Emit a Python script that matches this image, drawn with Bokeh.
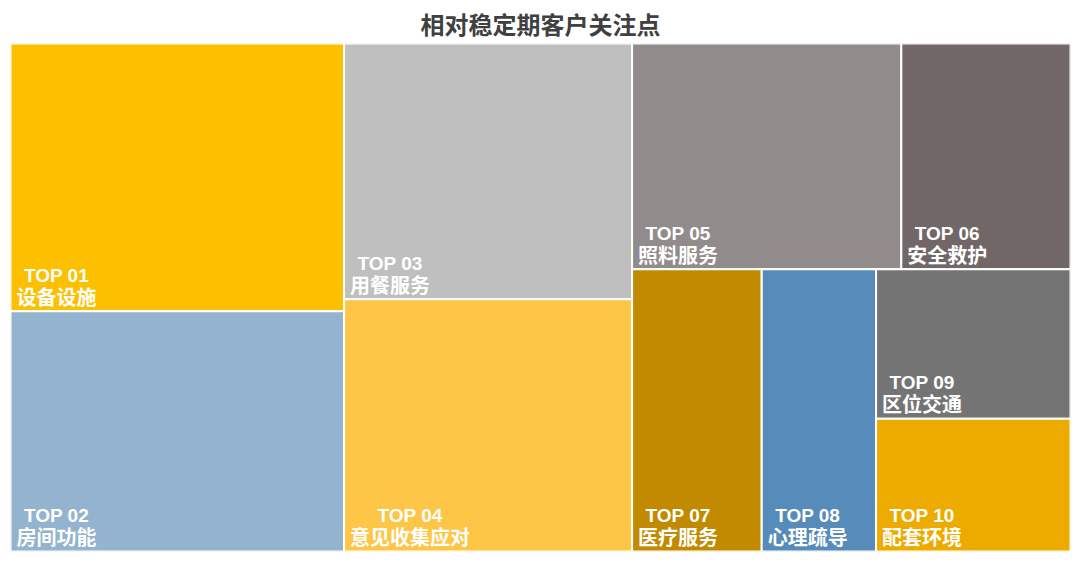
from bokeh.plotting import figure
from bokeh.models import Range1d, ColumnDataSource
from bokeh.core.properties import value
from bokeh.embed import file_html
from bokeh.resources import INLINE

# ---- data ----
codes = ["TOP 01", "TOP 02", "TOP 03", "TOP 04", "TOP 05",
         "TOP 06", "TOP 07", "TOP 08", "TOP 09", "TOP 10"]
names = ["设备设施", "房间功能", "用餐服务", "意见收集应对", "照料服务",
         "安全救护", "医疗服务", "心理疏导", "区位交通", "配套环境"]
values = [16.6, 14.9, 13.7, 13.5, 11.3, 7.1, 6.8, 6.0, 5.4, 4.8]
colors = ["#FCC000", "#93B3CF", "#BFBFBF", "#FDC647", "#928B8C",
          "#726767", "#C28A00", "#568BBA", "#747474", "#EDAB00"]

# treemap strip structure (orientation, item indices), as in the original layout
groups = [("col", [0, 1]), ("col", [2, 3]), ("row", [4, 5]),
          ("col", [6]), ("col", [7]), ("col", [8, 9])]

W, H = 1060, 508

# ---- layout computed from values ----
x0, y0, x1, y1 = 0.0, 0.0, float(W), float(H)
remaining = sum(values)
rects = [None] * len(values)
for orient, idx in groups:
    gsum = sum(values[i] for i in idx)
    frac = gsum / remaining
    if orient == "col":
        sw = (x1 - x0) * frac
        cy = y0
        for i in idx:
            h = (y1 - y0) * values[i] / gsum
            rects[i] = (x0, cy, x0 + sw, cy + h)
            cy += h
        x0 += sw
    else:
        sh = (y1 - y0) * frac
        cx = x0
        for i in idx:
            w = (x1 - x0) * values[i] / gsum
            rects[i] = (cx, y0, cx + w, y0 + sh)
            cx += w
        y0 += sh
    remaining -= gsum

left = [r[0] for r in rects]
right = [r[2] for r in rects]
top = [r[1] for r in rects]
bottom = [r[3] for r in rects]

src = ColumnDataSource(dict(left=left, right=right, top=top, bottom=bottom,
                            color=colors, code=codes, name=names))

# label positions: block anchored at bottom-left of each cell, lines centred
char_w = 20
lab_cx = [l + 6 + len(n) * char_w / 2 for l, n in zip(left, names)]
name_y = [b - 15 for b in bottom]
code_y = [b - 36 for b in bottom]
lab = ColumnDataSource(dict(x=lab_cx, ny=name_y, cy=code_y, code=codes, name=names))

p = figure(frame_width=W, frame_height=H,
           x_range=Range1d(0, W), y_range=Range1d(H, 0),
           output_backend="svg", toolbar_location=None,
           min_border_left=10, min_border_right=2, min_border_bottom=4,
           min_border_top=0,
           title="相对稳定期客户关注点")
p.title.text_font = "Noto Sans CJK SC"
p.title.text_font_size = "24px"
p.title.text_font_style = "bold"
p.title.text_color = "#404040"
p.title.align = "center"
p.title.standoff = 6
p.axis.visible = False
p.grid.visible = False
p.outline_line_color = None
p.background_fill_color = "white"
p.border_fill_color = "white"

p.quad(left="left", right="right", top="top", bottom="bottom", source=src,
       fill_color="color", line_color="white", line_width=2)

p.text(x="x", y="cy", text="code", source=lab, text_align="center",
       text_baseline="middle", text_color="white",
       text_font=value("Liberation Sans"), text_font_size="19px",
       text_font_style="bold")
p.text(x="x", y="ny", text="name", source=lab, text_align="center",
       text_baseline="middle", text_color="white",
       text_font=value("Noto Sans CJK SC"), text_font_size="20px",
       text_font_style="bold")

open("out.html", "w").write(file_html(p, INLINE))
